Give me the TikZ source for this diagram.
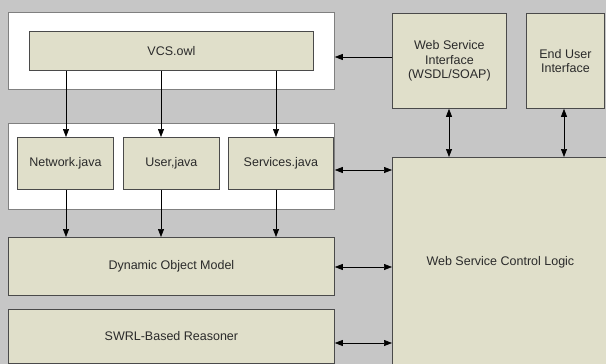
\documentclass[tikz,border=0pt]{standalone}
\usepackage{fontspec}
\setmainfont{Liberation Sans}
\usetikzlibrary{arrows.meta}
\definecolor{bgray}{HTML}{C6C6C6}
\definecolor{beige}{HTML}{E0DFCA}
\definecolor{edge}{HTML}{4A4A4A}
\definecolor{txt}{HTML}{2A2A2A}
\tikzset{
  frame/.style={draw=edge!70, fill=white, line width=0.8pt, anchor=north west, inner sep=0pt},
  box/.style={draw=edge, fill=beige, line width=0.8pt, anchor=north west, inner sep=0pt,
    align=center, text=txt, font=\fontsize{12.5}{14.5}\selectfont},
  tip/.tip={Triangle[length=8pt,width=6pt]},
  arr/.style={-tip, line width=0.7pt, black},
  darr/.style={tip-tip, line width=0.7pt, black}
}
\begin{document}
\begin{tikzpicture}[x=1pt,y=-1pt]
  \fill[bgray] (0,0) rectangle (606,364);
  \useasboundingbox (0,0) rectangle (606,364);
  % ontology layer
  \node[frame, minimum width=326pt, minimum height=77pt] (top) at (8,12) {};
  \node[box, minimum width=284pt, minimum height=39pt] (vcs) at (29,31) {VCS.owl};
  % generated classes
  \node[frame, minimum width=326pt, minimum height=86pt] (mid) at (8,123) {};
  \node[box, minimum width=96pt, minimum height=52pt] (net) at (17,137) {Network.java};
  \node[box, minimum width=96pt, minimum height=52pt] (usr) at (123,137) {User,java};
  \node[box, minimum width=105pt, minimum height=52pt] (srv) at (228,137) {Services.java};
  % object model and reasoner
  \node[box, minimum width=326pt, minimum height=58pt] (dom) at (8,237) {Dynamic Object Model};
  \node[box, minimum width=326pt, minimum height=54pt] (swrl) at (8,309) {SWRL-Based Reasoner};
  % interfaces and control logic
  \node[box, minimum width=114pt, minimum height=95pt] (wsi) at (392,13) {Web Service\\Interface\\(WSDL/SOAP)};
  \node[box, minimum width=78pt, minimum height=95pt] (eui) at (526,13) {End User\\Interface};
  \node[box, minimum width=216pt, minimum height=210pt] (wscl) at (392,157) {Web Service Control Logic};
  % ontology to classes
  \draw[arr] (vcs.south -| 66,0) -- (net.north -| 66,0);
  \draw[arr] (vcs.south -| 161,0) -- (usr.north -| 161,0);
  \draw[arr] (vcs.south -| 276,0) -- (srv.north -| 276,0);
  % classes to object model
  \draw[arr] (net.south -| 66,0) -- (dom.north -| 66,0);
  \draw[arr] (usr.south -| 161,0) -- (dom.north -| 161,0);
  \draw[arr] (srv.south -| 276,0) -- (dom.north -| 276,0);
  % interface links
  \draw[arr] (wsi.west |- 0,57) -- (top.east |- 0,57);
  \draw[darr] (wsi.south -| 449,0) -- (wscl.north -| 449,0);
  \draw[darr] (eui.south -| 564,0) -- (wscl.north -| 564,0);
  % control logic links
  \draw[darr] (mid.east |- 0,170) -- (wscl.west |- 0,170);
  \draw[darr] (dom.east |- 0,267) -- (wscl.west |- 0,267);
  \draw[darr] (swrl.east |- 0,343) -- (wscl.west |- 0,343);
\end{tikzpicture}
\end{document}
